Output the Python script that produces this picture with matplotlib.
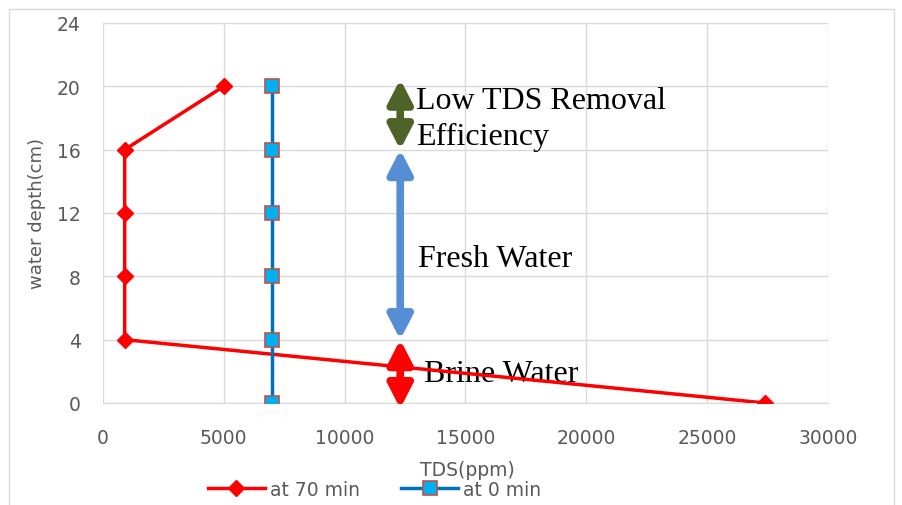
import matplotlib.pyplot as plt
from matplotlib.patches import Rectangle

# TDS profile vs water depth
depth = [20, 16, 12, 8, 4, 0]
tds_70min = [5000, 900, 900, 900, 900, 27400]
tds_0min = [7000, 7000, 7000, 7000, 7000, 7000]

# zone arrows: (bottom, top, colour, label)
zone_x = 12300
zones = [(16, 20.45, '#4F6228', 'Low TDS Removal\nEfficiency'),
         (4, 16, '#558ED5', 'Fresh Water'),
         (-0.35, 4, '#FF0000', 'Brine Water')]

fig = plt.figure(figsize=(9.03, 5.06), dpi=100)
fig.patches.append(Rectangle((9/903, -0.1), 885/903, 1.1 - 10/506, transform=fig.transFigure,
                             fill=False, edgecolor='#D9D9D9', lw=1))
ax = fig.add_axes([0.114, 0.2016, 0.803, 0.751])

ax.plot(tds_70min, depth, color='#FF0000', lw=2.5, marker='D', ms=8,
        mfc='#FF0000', mec='#FF0000', label='at 70 min', zorder=3)
ax.plot(tds_0min, depth, color='#0070C0', lw=2.5, marker='s', ms=10.5,
        mfc='#00B0F0', mec='#C0504D', mew=1.2, label='at 0 min', zorder=3)

for lo, hi, c, txt in zones:
    ax.annotate('', xy=(zone_x, lo), xytext=(zone_x, hi), annotation_clip=False,
                arrowprops=dict(arrowstyle='<|-|>,head_length=0.7,head_width=0.36',
                                mutation_scale=20, color=c, lw=5.5,
                                shrinkA=0, shrinkB=0), zorder=4)

ax.text(12950, 17.95, zones[0][3], family='Liberation Serif', fontsize=23, va='center',
        linespacing=1.3, zorder=5)
ax.text(13030, 9.15, zones[1][3], family='Liberation Serif', fontsize=23, va='center', zorder=5)
ax.text(13280, 1.85, zones[2][3], family='Liberation Serif', fontsize=23, va='center', zorder=2)

ax.set_xlim(0, 30000)
ax.set_ylim(0, 24)
ax.set_xticks(range(0, 30001, 5000))
ax.set_yticks(range(0, 25, 4))
ax.grid(True, color='#D9D9D9', lw=1)
ax.set_axisbelow(True)
for s in ['top', 'right', 'left']:
    ax.spines[s].set_visible(False)
ax.spines['bottom'].set_color('#D9D9D9')
ax.tick_params(length=0, labelsize=13.5, labelcolor='#595959')
ax.tick_params(axis='x', pad=18)
ax.tick_params(axis='y', pad=16)

ax.set_ylabel('water depth(cm)', fontsize=13, color='#595959', labelpad=8)
ax.set_xlabel('TDS(ppm)', fontsize=13.5, color='#595959')
ax.xaxis.set_label_coords(0.502, -0.151)

ax.legend(loc='center', bbox_to_anchor=(0.375, -0.227), ncol=2, frameon=False,
          fontsize=13.5, labelcolor='#595959', handlelength=3.0, columnspacing=2.2,
          handletextpad=0.3)

plt.savefig('out.png', dpi=100)
